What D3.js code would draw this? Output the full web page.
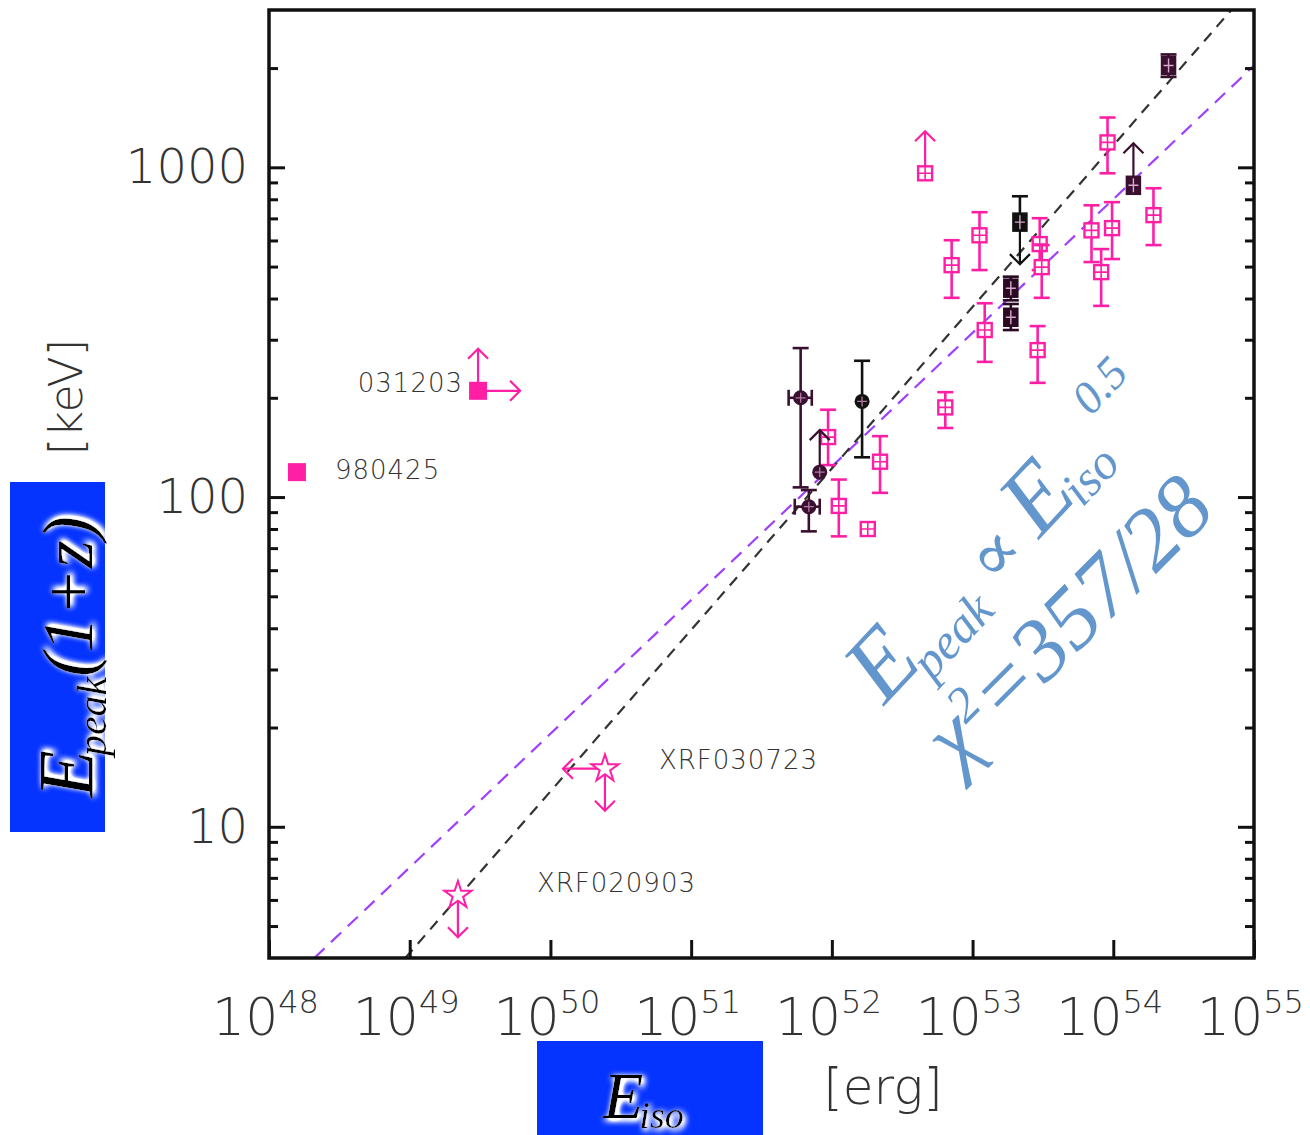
<!DOCTYPE html>
<html>
<head>
<meta charset="utf-8">
<script src="https://cdn.jsdelivr.net/npm/d3@7"></script>
<style>
  body { margin: 0; background: #fff; }
  svg { display: block; }
</style>
</head>
<body>
<div id="chart"></div>
<script>
// ---- values ----

// x axis: Eiso [erg], one major tick per decade
const xExponents = [48, 49, 50, 51, 52, 53, 54, 55];
// y axis: Epeak(1+z) [keV]
const yMajor = [10, 100, 1000];
const yMinor = [5, 6, 7, 8, 9, 20, 30, 40, 50, 60, 70, 80, 90,
                200, 300, 400, 500, 600, 700, 800, 900, 2000];

// pink bursts: eiso [erg], ep [keV], lo/hi = vertical error bar, lim = limit arrows
const pinkPoints = [
  {eiso: 4.6e52, ep: 959, lim: ["up"]},
  {eiso: 9.1e53, ep: 1190, lo: 959, hi: 1416},
  {eiso: 1.93e54, ep: 716, lo: 581, hi: 864},
  {eiso: 1.12e53, ep: 622, lo: 488, hi: 731},
  {eiso: 3.0e53, ep: 585, lo: 488, hi: 701},
  {eiso: 3.1e53, ep: 498, lo: 402, hi: 581},
  {eiso: 7.0e53, ep: 644, lo: 516, hi: 767},
  {eiso: 9.8e53, ep: 654, lo: 527, hi: 784},
  {eiso: 8.2e53, ep: 481, lo: 380, hi: 565},
  {eiso: 7.1e52, ep: 505, lo: 402, hi: 601},
  {eiso: 1.22e53, ep: 321, lo: 257, hi: 387},
  {eiso: 2.9e53, ep: 279, lo: 222, hi: 330},
  {eiso: 9.4e51, ep: 152, lo: 125, hi: 184},
  {eiso: 1.12e52, ep: 94, lo: 76, hi: 113},
  {eiso: 1.8e52, ep: 80},
  {eiso: 2.2e52, ep: 128, lo: 103, hi: 153},
  {eiso: 6.4e52, ep: 187, lo: 162, hi: 208}
];

// dark bursts (second sample)
const darkPoints = [
  {eiso: 2.47e54, ep: 2036, lo: 1880, hi: 2200, shape: "fsq", color: "#3a1030"},
  {eiso: 1.39e54, ep: 882, lim: ["up"], shape: "fsq", color: "#3a1030"},
  {eiso: 2.17e53, ep: 682, hi: 817, lim: ["down"], shape: "fsq", color: "#111"},
  {eiso: 1.87e53, ep: 430, lo: 395, hi: 466, shape: "fsq", color: "#2a0a22"},
  {eiso: 1.87e53, ep: 351, lo: 321, hi: 385, shape: "fsq", color: "#2a0a22"},
  {eiso: 6.0e51, ep: 200, lo: 107, hi: 283, xlo: 4.93e51, xhi: 7.2e51, shape: "circ", color: "#3a1030"},
  {eiso: 6.86e51, ep: 93.5, lo: 78.7, hi: 105, xlo: 5.45e51, xhi: 8.2e51, shape: "circ", color: "#3a1030"},
  {eiso: 1.64e52, ep: 195, lo: 132, hi: 259, shape: "circ", color: "#111"},
  {eiso: 8.2e51, ep: 119, lim: ["up"], shape: "circ", color: "#3a1030"}
];

// labelled outliers
const namedBursts = [
  {name: "980425", eiso: 1.58e48, ep: 119, lim: []},
  {name: "031203", eiso: 3.06e49, ep: 210, lim: ["up", "right"]}
];
const xrfBursts = [
  {name: "XRF020903", eiso: 2.2e49, ep: 6.2, lim: ["down"]},
  {name: "XRF030723", eiso: 2.44e50, ep: 15, lim: ["left", "down"]}
];

// fitted relations, end points [Eiso, Epeak]
const blackFit = [[9.3e48, 4], [6.9e54, 3000]];
const purpleFit = [[2.1e48, 4], [1e55, 2035]];

// ---- drawing ----
const W = 1310, H = 1135;
const pink = "#ff1fa5";
const axisFont = "'DejaVu Sans', sans-serif";
const mathFont = "'Liberation Serif', 'DejaVu Serif', serif";

const svg = d3.select("#chart").append("svg")
  .attr("width", W).attr("height", H)
  .style("background", "#fff");

const defs = svg.append("defs");
const glow = defs.append("filter").attr("id", "glow")
  .attr("x", "-30%").attr("y", "-30%").attr("width", "160%").attr("height", "160%");
glow.append("feGaussianBlur").attr("in", "SourceAlpha").attr("stdDeviation", 3).attr("result", "b");
glow.append("feComponentTransfer").attr("in", "b").attr("result", "b2")
  .append("feFuncA").attr("type", "linear").attr("slope", 2.5);
glow.append("feFlood").attr("flood-color", "#fff").attr("result", "f");
glow.append("feComposite").attr("in", "f").attr("in2", "b2").attr("operator", "in").attr("result", "w");
glow.append("feOffset").attr("in", "w").attr("dx", 2).attr("dy", 2).attr("result", "wo");
const merge = glow.append("feMerge");
merge.append("feMergeNode").attr("in", "wo");
merge.append("feMergeNode").attr("in", "SourceGraphic");

const plotL = 269, plotR = 1254, plotT = 10, plotB = 958;

const x = d3.scaleLog().domain([1e48, 1e55]).range([plotL, plotR]);
const y = d3.scaleLog().domain([4, 3000]).range([plotB, plotT]);

defs.append("clipPath").attr("id", "plotClip")
  .append("rect").attr("x", plotL).attr("y", plotT)
  .attr("width", plotR - plotL).attr("height", plotB - plotT);

// fit lines
const line = d3.line().x(d => x(d[0])).y(d => y(d[1]));
const fits = svg.append("g").attr("clip-path", "url(#plotClip)");
fits.append("path").datum(purpleFit).attr("d", line)
  .attr("stroke", "#a040ff").attr("stroke-width", 2.2).attr("fill", "none")
  .attr("stroke-dasharray", "14,9");
fits.append("path").datum(blackFit).attr("d", line)
  .attr("stroke", "#333").attr("stroke-width", 2.2).attr("fill", "none")
  .attr("stroke-dasharray", "11,8");

// arrow for limits
function drawArrow(g, px, py, dir, color){
  const L = 42, h = 10;
  const v = {up: [0, -1], down: [0, 1], left: [-1, 0], right: [1, 0]}[dir];
  const tx = px + v[0] * L, ty = py + v[1] * L;
  g.append("line").attr("x1", px).attr("y1", py).attr("x2", tx).attr("y2", ty)
    .attr("stroke", color).attr("stroke-width", 2.2);
  // chevron head
  const bx = -v[0] * h, by = -v[1] * h;
  g.append("path")
    .attr("d", `M${tx + bx - v[1] * h},${ty + by - v[0] * h} L${tx},${ty} L${tx + bx + v[1] * h},${ty + by + v[0] * h}`)
    .attr("stroke", color).attr("stroke-width", 2.2).attr("fill", "none");
}

function drawPoint(g, d, color, shape){
  const px = x(d.eiso), py = y(d.ep);
  const cap = 8, sw = 2.6;
  if(d.hi !== undefined || d.lo !== undefined){
    const yt = d.hi !== undefined ? y(d.hi) : py;
    const yb = d.lo !== undefined ? y(d.lo) : py;
    g.append("line").attr("x1", px).attr("x2", px).attr("y1", yt).attr("y2", yb)
      .attr("stroke", color).attr("stroke-width", sw);
    if(d.hi !== undefined) g.append("line").attr("x1", px - cap).attr("x2", px + cap)
      .attr("y1", yt).attr("y2", yt).attr("stroke", color).attr("stroke-width", sw);
    if(d.lo !== undefined) g.append("line").attr("x1", px - cap).attr("x2", px + cap)
      .attr("y1", yb).attr("y2", yb).attr("stroke", color).attr("stroke-width", sw);
  }
  if(d.xlo !== undefined){
    const xl = x(d.xlo), xr = x(d.xhi);
    g.append("line").attr("x1", xl).attr("x2", xr).attr("y1", py).attr("y2", py)
      .attr("stroke", color).attr("stroke-width", sw);
    [xl, xr].forEach(xx => g.append("line").attr("x1", xx).attr("x2", xx)
      .attr("y1", py - cap).attr("y2", py + cap).attr("stroke", color).attr("stroke-width", sw));
  }
  (d.lim || []).forEach(dir => drawArrow(g, px, py, dir, color));

  if(shape === "sq"){
    g.append("rect").attr("x", px - 7).attr("y", py - 7).attr("width", 14).attr("height", 14)
      .attr("fill", "#fff").attr("stroke", color).attr("stroke-width", 2.4);
    g.append("path").attr("d", `M${px - 7},${py} H${px + 7} M${px},${py - 7} V${py + 7}`)
      .attr("stroke", color).attr("stroke-width", 1.6);
  } else if(shape === "fsq"){
    g.append("rect").attr("x", px - 7).attr("y", py - 9).attr("width", 14).attr("height", 18)
      .attr("fill", color).attr("stroke", color).attr("stroke-width", 1.5);
    g.append("path").attr("d", `M${px - 5},${py} H${px + 5} M${px},${py - 7} V${py + 7}`)
      .attr("stroke", "#d8a8cc").attr("stroke-width", 1.4);
  } else if(shape === "circ"){
    g.append("circle").attr("cx", px).attr("cy", py).attr("r", 7.5)
      .attr("fill", color);
    g.append("path").attr("d", `M${px - 5},${py} H${px + 5} M${px},${py - 5} V${py + 5}`)
      .attr("stroke", "#b07aa0").attr("stroke-width", 1.3);
  }
}

const pts = svg.append("g");
pinkPoints.forEach(d => drawPoint(pts, d, pink, "sq"));
darkPoints.forEach(d => drawPoint(pts, d, d.color, d.shape));

// labelled filled squares
const labelPos = {
  "980425": {dx: 38, dy: 7, anchor: "start"},
  "031203": {dx: -15, dy: 1, anchor: "end"},
  "XRF030723": {dx: 54, dy: 0, anchor: "start"},
  "XRF020903": {dx: 79, dy: -3, anchor: "start"}
};
namedBursts.forEach(d => {
  const px = x(d.eiso), py = y(d.ep);
  d.lim.forEach(dir => drawArrow(pts, px, py, dir, pink));
  pts.append("rect").attr("x", px - 9).attr("y", py - 9).attr("width", 18).attr("height", 18)
    .attr("fill", pink);
});
const star = d3.symbol().type(d3.symbolStar).size(230);
xrfBursts.forEach(d => {
  const px = x(d.eiso), py = y(d.ep);
  d.lim.forEach(dir => drawArrow(pts, px, py, dir, pink));
  pts.append("path").attr("d", star).attr("transform", `translate(${px},${py})`)
    .attr("fill", "#fff").attr("stroke", pink).attr("stroke-width", 2);
});
namedBursts.concat(xrfBursts).forEach(d => {
  const p = labelPos[d.name];
  svg.append("text").attr("x", x(d.eiso) + p.dx).attr("y", y(d.ep) + p.dy)
    .attr("text-anchor", p.anchor)
    .attr("font-family", axisFont).attr("font-weight", 200)
    .attr("font-size", 26).attr("letter-spacing", 1)
    .attr("fill", "#333")
    .text(d.name);
});

// ---- axes ----
function styleAxis(g){
  g.select(".domain").remove();
  g.selectAll(".tick line").attr("stroke", "#111").attr("stroke-width", 3);
}
svg.append("g").attr("transform", `translate(${plotL},0)`)
  .call(d3.axisLeft(y).tickValues(yMinor).tickSize(-9).tickFormat(""))
  .call(styleAxis);
svg.append("g").attr("transform", `translate(${plotR},0)`)
  .call(d3.axisRight(y).tickValues(yMinor).tickSize(-9).tickFormat(""))
  .call(styleAxis);
svg.append("g").attr("transform", `translate(${plotR},0)`)
  .call(d3.axisRight(y).tickValues(yMajor).tickSize(-16).tickFormat(""))
  .call(styleAxis);
const yAx = svg.append("g").attr("transform", `translate(${plotL},0)`)
  .call(d3.axisLeft(y).tickValues(yMajor).tickSize(-16).tickPadding(21).tickFormat(d3.format("d")))
  .call(styleAxis);
yAx.selectAll(".tick text").attr("font-family", axisFont).attr("font-size", 48)
  .attr("font-weight", 200).attr("fill", "#333");

const xAx = svg.append("g").attr("transform", `translate(0,${plotB})`)
  .call(d3.axisBottom(x).tickValues(xExponents.map(e => Math.pow(10, e))).tickSize(-18).tickFormat(""))
  .call(styleAxis);
xAx.selectAll(".tick").each(function(d, i){
  const t = d3.select(this).append("text")
    .attr("y", 77).attr("x", -4).attr("text-anchor", "middle")
    .attr("font-family", axisFont).attr("font-weight", 200).attr("fill", "#333");
  t.append("tspan").attr("font-size", 52).text("10");
  t.append("tspan").attr("font-size", 32).attr("dy", -22).text(xExponents[i]);
});

// frame
svg.append("rect").attr("x", plotL).attr("y", plotT)
  .attr("width", plotR - plotL).attr("height", plotB - plotT)
  .attr("fill", "none").attr("stroke", "#111").attr("stroke-width", 3.5);

// unit labels
svg.append("text").attr("transform", "translate(82,397) rotate(-90)")
  .attr("text-anchor", "middle").attr("font-family", axisFont).attr("font-weight", 200)
  .attr("font-size", 46).attr("fill", "#333").text("[keV]");
svg.append("text").attr("x", 883).attr("y", 1104)
  .attr("text-anchor", "middle").attr("font-family", axisFont).attr("font-weight", 200)
  .attr("font-size", 50).attr("fill", "#333").text("[erg]");

// blue label boxes
svg.append("rect").attr("x", 10).attr("y", 482).attr("width", 95).attr("height", 350)
  .attr("fill", "#0533ff");
svg.append("rect").attr("x", 537).attr("y", 1041).attr("width", 226).attr("height", 94)
  .attr("fill", "#0533ff");

const yLab = svg.append("text").attr("transform", "translate(92,657) rotate(-90)")
  .attr("text-anchor", "middle").attr("font-family", mathFont).attr("font-style", "italic")
  .attr("fill", "#000").attr("filter", "url(#glow)");
yLab.append("tspan").attr("font-size", 78).text("E");
yLab.append("tspan").attr("font-size", 42).attr("dy", 14).attr("dx", -6).text("peak");
yLab.append("tspan").attr("font-size", 72).attr("dy", -14).text("(1+z)");

const xLab = svg.append("text").attr("x", 603).attr("y", 1118)
  .attr("font-family", mathFont).attr("font-style", "italic")
  .attr("fill", "#000").attr("filter", "url(#glow)");
xLab.append("tspan").attr("font-size", 66).text("E");
xLab.append("tspan").attr("font-size", 38).attr("dy", 10).attr("dx", -4).text("iso");

// rotated relation annotation
const note = svg.append("g").attr("fill", "#6396cc")
  .attr("font-family", mathFont).attr("font-style", "italic");
const n1 = note.append("text").attr("transform", "translate(1024,556) rotate(-47)")
  .attr("text-anchor", "middle");
n1.append("tspan").attr("font-size", 96).text("E");
n1.append("tspan").attr("font-size", 50).attr("dy", 18).attr("dx", -8).text("peak");
n1.append("tspan").attr("font-size", 70).attr("dy", -18).text(" \u221D ");
n1.append("tspan").attr("font-size", 96).text("E");
n1.append("tspan").attr("font-size", 50).attr("dy", 10).attr("dx", -6).text("iso");
n1.append("tspan").attr("font-size", 46).attr("dy", -56).attr("dx", 14).text("0.5");

const n2 = note.append("text").attr("transform", "translate(1088,642) rotate(-45)")
  .attr("text-anchor", "middle");
n2.append("tspan").attr("font-size", 88).text("\u03C7");
n2.append("tspan").attr("font-size", 50).attr("dy", -28).text("2");
n2.append("tspan").attr("font-size", 88).attr("dy", 28).text("=357/28");
</script>
</body>
</html>
